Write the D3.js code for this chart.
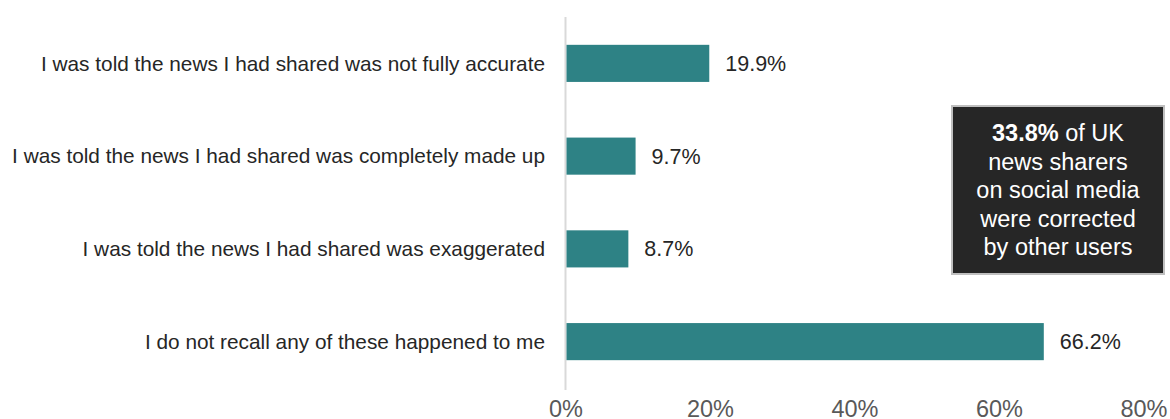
<!DOCTYPE html>
<html><head><meta charset="utf-8">
<script src="https://cdn.jsdelivr.net/npm/d3@7"></script>
<style>body{margin:0;background:#fff;}svg{display:block;font-family:"Liberation Sans",Arial,sans-serif;}</style>
</head><body>
<svg id="c" width="1170" height="419"></svg>
<script>
const categories = [
  "I was told the news I had shared was not fully accurate",
  "I was told the news I had shared was completely made up",
  "I was told the news I had shared was exaggerated",
  "I do not recall any of these happened to me"
];
const values = [19.9, 9.7, 8.7, 66.2];
const tickValues = [0, 20, 40, 60, 80];
const calloutBold = "33.8%";
const calloutLines = [" of UK", "news sharers", "on social media", "were corrected", "by other users"];

const svg = d3.select("#c");
const x = d3.scaleLinear().domain([0, 80]).range([565.5, 1143.5]);
const y = d3.scaleBand().domain(categories).range([17, 388]).paddingInner(0.6).paddingOuter(0.3);

svg.append("line").attr("x1", x(0)).attr("x2", x(0)).attr("y1", 17).attr("y2", 390)
  .attr("stroke", "#d9d9d9").attr("stroke-width", 2);

svg.selectAll("rect.bar").data(values).join("rect").attr("class","bar")
  .attr("x", x(0)+1).attr("y", (d,i)=>y(categories[i]))
  .attr("width", d=>x(d)-x(0)-1).attr("height", y.bandwidth())
  .attr("fill", "#2e8285");

svg.selectAll("text.cat").data(categories).join("text").attr("class","cat")
  .attr("x", 545).attr("y", d=>y(d)+y.bandwidth()/2).attr("dy","0.35em")
  .attr("text-anchor","end").attr("font-size", 20.8).attr("fill","#262626").text(d=>d);

svg.selectAll("text.val").data(values).join("text").attr("class","val")
  .attr("x", d=>x(d)+16).attr("y", (d,i)=>y(categories[i])+y.bandwidth()/2).attr("dy","0.35em")
  .attr("font-size", 21.5).attr("fill","#262626").text(d=>d.toFixed(1)+"%");

const axis = d3.axisBottom(x).tickValues(tickValues).tickFormat(d=>d+"%").tickSize(0).tickPadding(0);
const ag = svg.append("g").attr("transform","translate(0,400)").call(axis);
ag.select(".domain").remove();
ag.selectAll("text").attr("font-size", 23.5).attr("fill","#595959")
  .attr("font-family",'"Liberation Sans",Arial,sans-serif').attr("dy","0.71em");

const bx = 952, by = 106, bw = 212, bh = 168;
svg.append("rect").attr("x",bx).attr("y",by).attr("width",bw).attr("height",bh)
  .attr("fill","#262626").attr("stroke","#bfbfbf").attr("stroke-width",2);
const cx = bx + bw/2;
const t = svg.append("text").attr("text-anchor","middle").attr("font-size",23.5).attr("fill","#fff");
calloutLines.forEach((l,i)=>{
  const ts = t.append("tspan").attr("x",cx).attr("y",141+i*28.5);
  if(i===0){ ts.append("tspan").attr("font-weight","bold").text(calloutBold); ts.append("tspan").text(l); }
  else ts.text(l);
});
</script>
</body></html>
